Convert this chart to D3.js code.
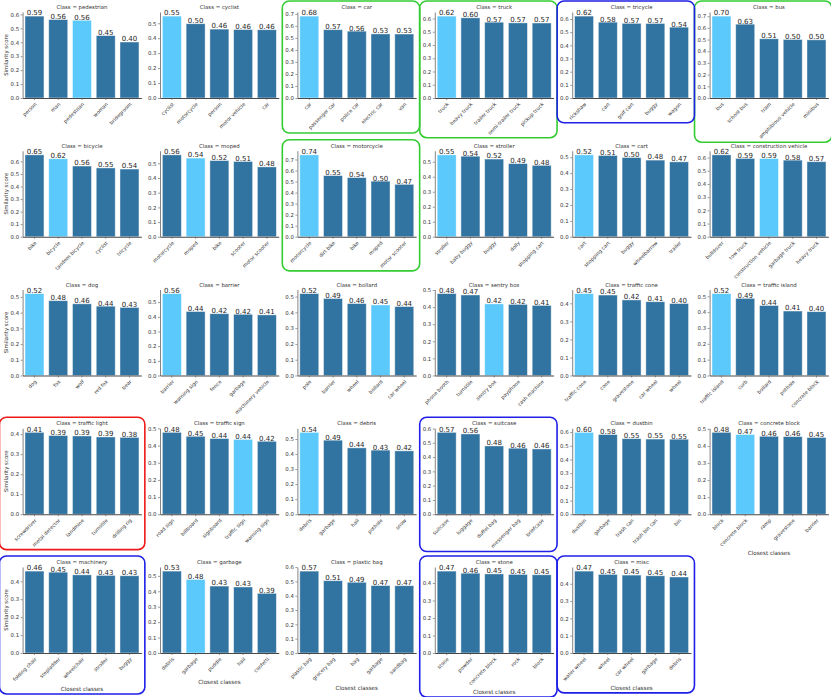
<!DOCTYPE html>
<html>
<head>
<meta charset="utf-8">
<script src="https://cdn.jsdelivr.net/npm/d3@7"></script>
<style>
  body { margin: 0; background: #fff; }
  svg { display: block; font-family: "DejaVu Sans", sans-serif; }
</style>
</head>
<body>
<svg id="chart" width="831" height="697"></svg>
<script>
// Query class of each panel
const classNames = [
    'pedestrian', 'cyclist', 'car', 'truck', 'tricycle', 'bus',
    'bicycle', 'moped', 'motorcycle', 'stroller', 'cart', 'construction vehicle',
    'dog', 'barrier', 'bollard', 'sentry box', 'traffic cone', 'traffic island',
    'traffic light', 'traffic sign', 'debris', 'suitcase', 'dustbin', 'concrete block',
    'machinery', 'garbage', 'plastic bag', 'stone', 'misc'
];

// Five closest classes per panel
const closestClasses = [
    ['person', 'man', 'pedestrian', 'woman', 'bridegroom'],
    ['cyclist', 'motorcycle', 'person', 'motor vehicle', 'car'],
    ['car', 'passenger car', 'police car', 'electric car', 'van'],
    ['truck', 'heavy truck', 'trailer truck', 'semi-trailer truck', 'pickup truck'],
    ['rickshaw', 'cart', 'golf cart', 'buggy', 'wagon'],
    ['bus', 'school bus', 'tram', 'amphibious vehicle', 'minibus'],
    ['bike', 'bicycle', 'tandem bicycle', 'cyclist', 'tricycle'],
    ['motorcycle', 'moped', 'bike', 'scooter', 'motor scooter'],
    ['motorcycle', 'dirt bike', 'bike', 'moped', 'motor scooter'],
    ['stroller', 'baby buggy', 'buggy', 'dolly', 'shopping cart'],
    ['cart', 'shopping cart', 'buggy', 'wheelbarrow', 'trailer'],
    ['bulldozer', 'tow truck', 'construction vehicle', 'garbage truck', 'heavy truck'],
    ['dog', 'fox', 'wolf', 'red fox', 'bear'],
    ['barrier', 'warning sign', 'fence', 'garbage', 'machinery vehicle'],
    ['pole', 'barrier', 'wheel', 'bollard', 'car wheel'],
    ['phone booth', 'turnstile', 'sentry box', 'payphone', 'cash machine'],
    ['traffic cone', 'cone', 'gravestone', 'car wheel', 'wheel'],
    ['traffic island', 'curb', 'bollard', 'pothole', 'concrete block'],
    ['screwdriver', 'metal detector', 'landmine', 'turnstile', 'drilling rig'],
    ['road sign', 'billboard', 'signboard', 'traffic sign', 'warning sign'],
    ['debris', 'garbage', 'hail', 'pothole', 'snow'],
    ['suitcase', 'luggage', 'duffel bag', 'messenger bag', 'briefcase'],
    ['dustbin', 'garbage', 'trash can', 'trash bin can', 'bin'],
    ['block', 'concrete block', 'ramp', 'gravestone', 'barrier'],
    ['folding chair', 'stepladder', 'wheelchair', 'stroller', 'buggy'],
    ['debris', 'garbage', 'puddle', 'hail', 'confetti'],
    ['plastic bag', 'grocery bag', 'bag', 'garbage', 'sandbag'],
    ['stone', 'powder', 'concrete block', 'rock', 'block'],
    ['water wheel', 'wheel', 'car wheel', 'garbage', 'debris']
];

// Similarity scores, same order as closestClasses
const scores = [
    [0.588, 0.563, 0.558, 0.448, 0.402],
    [0.548, 0.497, 0.461, 0.458, 0.457],
    [0.681, 0.568, 0.556, 0.533, 0.532],
    [0.618, 0.605, 0.572, 0.567, 0.566],
    [0.622, 0.576, 0.567, 0.566, 0.538],
    [0.701, 0.632, 0.507, 0.501, 0.498],
    [0.652, 0.621, 0.563, 0.548, 0.539],
    [0.558, 0.536, 0.519, 0.513, 0.476],
    [0.742, 0.554, 0.536, 0.504, 0.475],
    [0.546, 0.537, 0.518, 0.488, 0.476],
    [0.515, 0.511, 0.498, 0.482, 0.471],
    [0.621, 0.594, 0.593, 0.581, 0.569],
    [0.521, 0.476, 0.456, 0.441, 0.433],
    [0.558, 0.436, 0.421, 0.417, 0.413],
    [0.519, 0.488, 0.456, 0.447, 0.437],
    [0.479, 0.471, 0.419, 0.416, 0.410],
    [0.454, 0.446, 0.419, 0.409, 0.399],
    [0.517, 0.487, 0.442, 0.407, 0.403],
    [0.409, 0.393, 0.391, 0.386, 0.384],
    [0.477, 0.454, 0.441, 0.436, 0.425],
    [0.544, 0.492, 0.441, 0.426, 0.421],
    [0.573, 0.562, 0.478, 0.462, 0.457],
    [0.598, 0.582, 0.552, 0.549, 0.548],
    [0.480, 0.467, 0.457, 0.455, 0.450],
    [0.457, 0.451, 0.436, 0.433, 0.431],
    [0.531, 0.477, 0.434, 0.428, 0.387],
    [0.572, 0.505, 0.494, 0.471, 0.470],
    [0.468, 0.456, 0.452, 0.449, 0.447],
    [0.473, 0.454, 0.450, 0.446, 0.439]
];

// Position of the query class among its neighbours (-1 = not present)
const ownIndex = [
    2, 0, 0, 0, -1, 0,
    1, 1, 0, 0, 0, 2,
    0, 0, 3, 2, 0, 0,
    -1, 3, 0, -1, 0, 1,
    -1, 1, -1, -1, -1
];

// Highlight frames drawn around some panels
const greenFramed = [2, 3, 5, 8];
const blueFramed = [4, 21, 24, 27, 28];
const redFramed = [18];

const darkBar = '#3274a1';
const lightBar = '#5bc9fb';

// Layout
const nCols = 6;
const firstLeft = 22.6;
const colStep = 137.4;
const axesWidth = 118.75;
const firstBase = 98;
const rowStep = 138.75;
const axesHeight = 86;

const svg = d3.select('#chart');
svg.append('rect').attr('width', 831).attr('height', 697).attr('fill', '#fff');

const panels = [];

classNames.forEach((cls, idx) => {
    const col = idx % nCols;
    const row = Math.floor(idx / nCols);
    const left = firstLeft + col * colStep;
    const base = firstBase + row * rowStep;
    const top = base - axesHeight;
    const labels = closestClasses[idx];
    const vals = scores[idx];

    const g = svg.append('g').attr('class', 'panel');

    const x = d3.scaleBand()
        .domain(d3.range(labels.length))
        .range([left, left + axesWidth])
        .paddingInner(0.2)
        .paddingOuter(0.1);

    const yMax = d3.max(vals) * 1.05;
    const y = d3.scaleLinear().domain([0, yMax]).range([base, top]);

    // bars
    g.selectAll('rect.bar')
        .data(vals)
        .join('rect')
        .attr('class', 'bar')
        .attr('x', (d, i) => x(i))
        .attr('width', x.bandwidth())
        .attr('y', d => y(d))
        .attr('height', d => base - y(d))
        .attr('fill', (d, i) => i === ownIndex[idx] ? lightBar : darkBar)
        .attr('stroke', 'rgba(255,255,255,0.55)')
        .attr('stroke-width', 0.8);

    // value labels
    g.selectAll('text.val')
        .data(vals)
        .join('text')
        .attr('class', 'val')
        .attr('x', (d, i) => x(i) + x.bandwidth() / 2)
        .attr('y', d => y(d) - 0.6)
        .attr('text-anchor', 'middle')
        .style('font-size', '7px')
        .style('fill', '#262626')
        .text(d => d.toFixed(2));

    // y axis
    const yTicks = d3.range(0, yMax + 1e-9, 0.1);
    const yAxis = g.append('g')
        .attr('transform', `translate(${left},0)`)
        .call(d3.axisLeft(y).tickValues(yTicks).tickFormat(d3.format('.1f'))
            .tickSize(2).tickSizeOuter(0).tickPadding(1.5));
    yAxis.select('.domain').attr('stroke', '#777').attr('stroke-width', 0.9);
    yAxis.selectAll('.tick line').attr('stroke', '#555').attr('stroke-width', 0.6);
    yAxis.selectAll('.tick text').style('font-size', '5.4px').style('fill', '#333')
        .style('font-family', '"DejaVu Sans", sans-serif');

    // x axis
    const xAxis = g.append('g')
        .attr('transform', `translate(0,${base})`)
        .call(d3.axisBottom(x).tickFormat(i => labels[i])
            .tickSize(2).tickSizeOuter(0).tickPadding(2));
    xAxis.select('.domain').attr('stroke', '#333').attr('stroke-width', 0.9);
    xAxis.selectAll('.tick line').attr('stroke', '#555').attr('stroke-width', 0.6);
    xAxis.selectAll('.tick text')
        .style('font-size', '5px')
        .style('fill', '#333')
        .style('font-family', '"DejaVu Sans", sans-serif')
        .attr('text-anchor', 'end')
        .attr('y', 0)
        .attr('dy', 0)
        .attr('transform', 'translate(2.5,6.5) rotate(-45)');

    // title
    g.append('text')
        .attr('x', left + axesWidth / 2)
        .attr('y', top - 3)
        .attr('text-anchor', 'middle')
        .style('font-size', '5.4px')
        .style('fill', '#333')
        .text(`Class = ${cls}`);

    // y label on first column
    if (col === 0) {
        g.append('text')
            .attr('transform', `translate(7.5,${(top + base) / 2}) rotate(-90)`)
            .attr('text-anchor', 'middle')
            .style('font-size', '5.4px')
            .style('fill', '#333')
            .text('Similarity score');
    }

    // x label where there is no panel below
    if (idx + nCols >= classNames.length) {
        const bb = xAxis.node().getBBox();
        g.append('text')
            .attr('x', left + axesWidth / 2)
            .attr('y', base + bb.height + 8)
            .attr('text-anchor', 'middle')
            .style('font-size', '5.6px')
            .style('fill', '#333')
            .text('Closest classes');
    }

    panels.push({ g, right: left + axesWidth });
});

// coloured frames around selected panels
function drawFrame(idx, color) {
    const bb = panels[idx].g.node().getBBox();
    const x0 = bb.x - 3;
    const x1 = Math.max(bb.x + bb.width, panels[idx].right) + 3;
    svg.append('rect')
        .attr('x', x0)
        .attr('y', bb.y - 3)
        .attr('width', x1 - x0)
        .attr('height', bb.height + 5)
        .attr('rx', 7)
        .attr('fill', 'none')
        .attr('stroke', color)
        .attr('stroke-width', 1.6);
}
greenFramed.forEach(i => drawFrame(i, '#33cc33'));
blueFramed.forEach(i => drawFrame(i, '#1f1fe8'));
redFramed.forEach(i => drawFrame(i, '#ee1a1a'));
</script>
</body>
</html>
